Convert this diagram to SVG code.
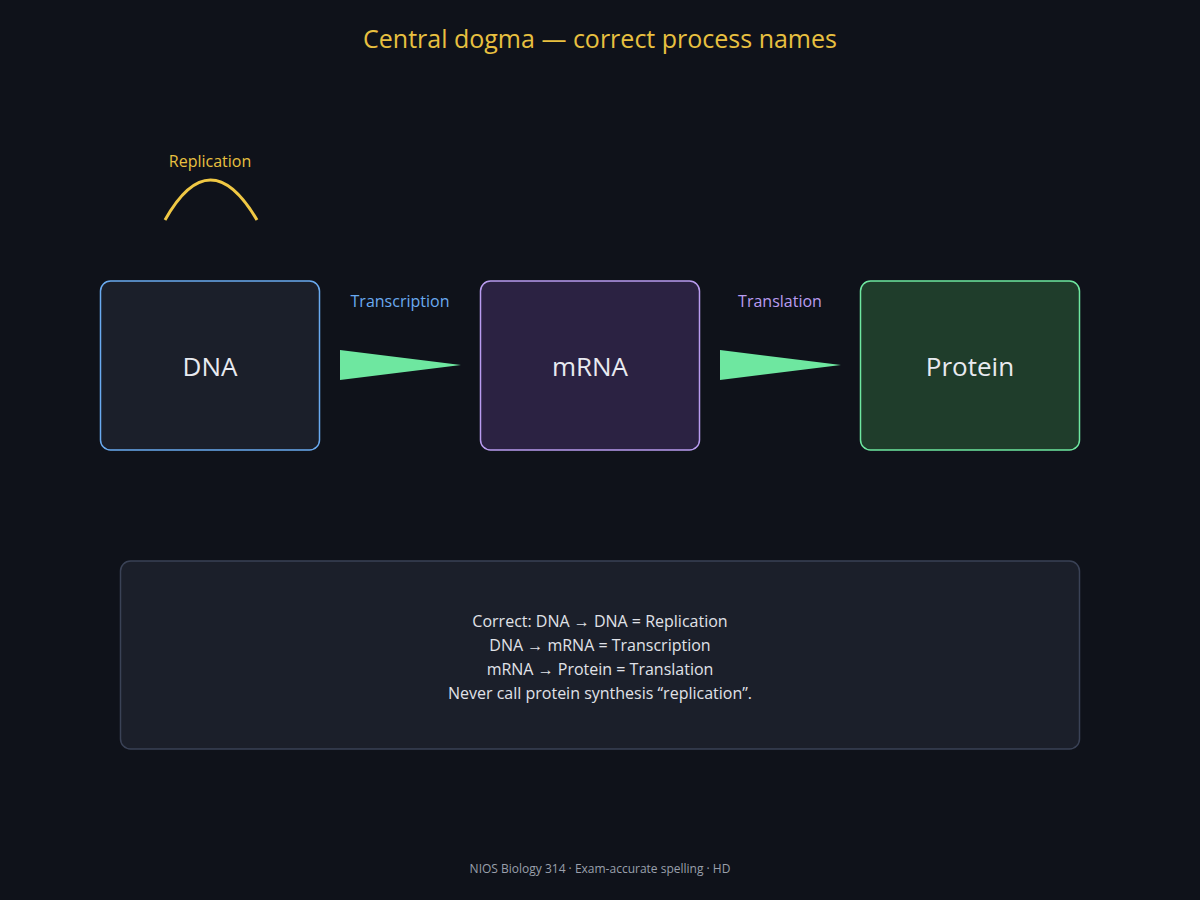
<svg xmlns="http://www.w3.org/2000/svg" width="1200" height="900" viewBox="0 0 1200 900">
<style>
text{font-family:"Open Sans","Noto Sans",sans-serif;text-anchor:middle}
.node{stroke-width:1.5}
.big{font-size:26px;fill:#e8eaf0}
.note{font-size:16px;fill:#e0e2e8}
</style>
<rect width="1200" height="900" fill="#0f121a"/>
<text x="600" y="48" font-size="25" fill="#e8c040">Central dogma — correct process names</text>
<g id="replication">
<path d="M165,220 Q210,140 257,220" fill="none" stroke="#f0c844" stroke-width="3"/>
<text x="210" y="167" font-size="16" fill="#e8c040">Replication</text>
</g>
<g id="dna"><rect class="node" x="100.5" y="281" width="219" height="169" rx="10" fill="#1b1f2a" stroke="#6aaaf0"/><text class="big" x="210" y="376">DNA</text></g>
<g id="mrna"><rect class="node" x="480.5" y="281" width="219" height="169" rx="10" fill="#2b2242" stroke="#b99cf0"/><text class="big" x="590" y="376">mRNA</text></g>
<g id="protein"><rect class="node" x="860.5" y="281" width="219" height="169" rx="10" fill="#1f3d2b" stroke="#6ee7a0"/><text class="big" x="970" y="376">Protein</text></g>
<g id="connectors">
<polygon points="340,350 340,380 461,365" fill="#6ee7a0"/>
<polygon points="720,350 720,380 841,365" fill="#6ee7a0"/>
<text x="400" y="307" font-size="16" fill="#6aaaf0">Transcription</text>
<text x="780" y="307" font-size="16" fill="#b99cf0">Translation</text>
</g>
<g id="note">
<rect x="120.5" y="561" width="959" height="188" rx="10" fill="#1b1f2a" stroke="#3a4256" stroke-width="1.5"/>
<text class="note" x="600" y="627">Correct: DNA → DNA = Replication</text>
<text class="note" x="600" y="651">DNA → mRNA = Transcription</text>
<text class="note" x="600" y="675">mRNA → Protein = Translation</text>
<text class="note" x="600" y="699">Never call protein synthesis “replication”.</text>
</g>
<text x="600" y="873" font-size="12" fill="#9aa0ac">NIOS Biology 314 · Exam-accurate spelling · HD</text>
</svg>
